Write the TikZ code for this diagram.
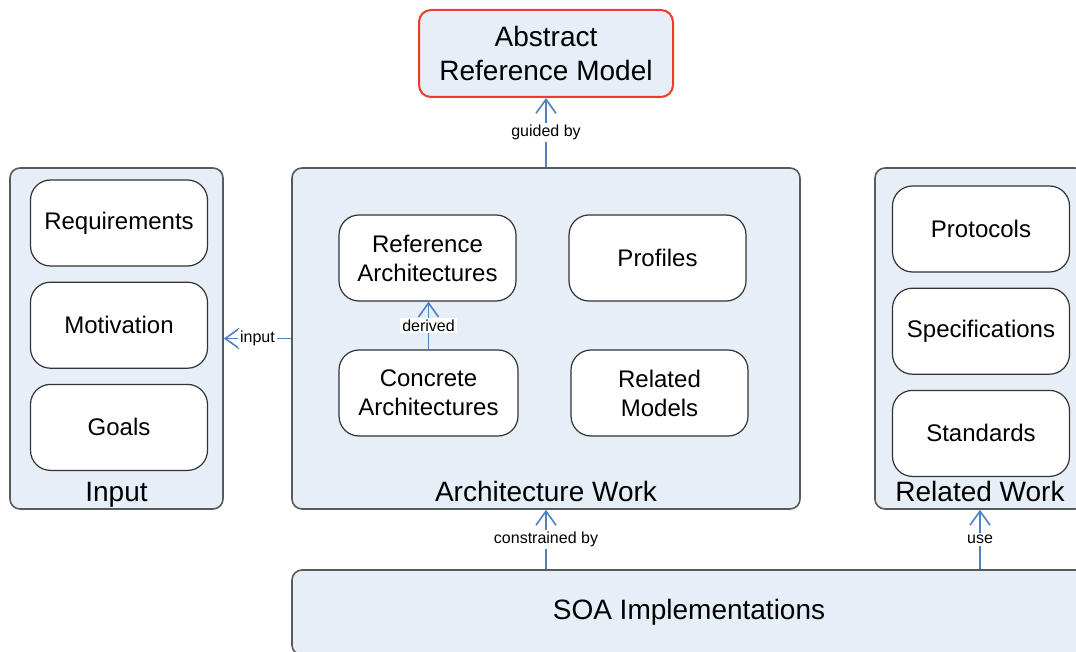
\documentclass[tikz,border=0pt]{standalone}
\usepackage{fontspec}
\setmainfont{Liberation Sans}
\usetikzlibrary{arrows.meta,positioning}
\definecolor{paleblue}{HTML}{E6EEF7}
\definecolor{linkblue}{HTML}{4F81C4}
\definecolor{edgegrey}{HTML}{5A5A5A}
\definecolor{redline}{HTML}{EE3B2E}
\tikzset{
	group/.style={draw=edgegrey, line width=0.8pt, fill=paleblue, rounded corners=5pt, inner sep=0pt},
	grouplbl/.style={anchor=base, inner sep=0pt, font=\fontsize{14}{16}\selectfont},
	item/.style={draw=black!80, line width=0.6pt, fill=white, rounded corners=10pt, minimum width=88.5pt, minimum height=43pt, inner sep=0pt, align=center, font=\fontsize{12}{14.5}\selectfont},
	link/.style={draw=linkblue, line width=0.8pt, -{Straight Barb[length=7pt,width=10pt]}},
	tag/.style={fill=white, inner sep=1pt, font=\fontsize{8}{9}\selectfont},
}
\begin{document}
\begin{tikzpicture}[x=0.5pt, y=-0.5pt]
			%%%%% START %%%%%
			\useasboundingbox (0,0) rectangle (1076,652);
			\clip (0,0) rectangle (1076,652);
			
			% top model
			\node[group, draw=redline, line width=1pt, rounded corners=6pt, minimum width=127pt, minimum height=43.5pt, align=center, font=\fontsize{14}{17}\selectfont] (abs) at (546,53.5) {Abstract\\Reference Model};
			
			% input
			\node[group, minimum width=106.5pt, minimum height=170.5pt] (inp) at (116.5,338.5) {};
			\node[grouplbl, yshift=4pt] (inplbl) at (inp.south) {Input};
			\node[item] (req) at (119,223) {Requirements};
			\node[item, below=7.5pt of req] (mot) {Motivation};
			\node[item, below=7.5pt of mot] (goal) {Goals};
			
			% architecture work
			\node[group, minimum width=254pt, minimum height=170.5pt] (arch) at (546,338.5) {};
			\node[grouplbl, yshift=4pt] (archlbl) at (arch.south) {Architecture Work};
			\node[item] (ref) at (427.5,258) {Reference\\Architectures};
			\node[item] (prof) at (657.5,258) {Profiles};
			\node[item, minimum width=89.5pt] (conc) at (428.5,393) {Concrete\\Architectures};
			\node[item] (relmod) at (659.5,393) {Related\\Models};
			
			% related work
			\node[group, minimum width=105pt, minimum height=170.5pt] (rel) at (980,338.5) {};
			\node[grouplbl, yshift=4pt] (rellbl) at (rel.south) {Related Work};
			\node[item] (prot) at (981,229) {Protocols};
			\node[item, below=7.5pt of prot] (spec) {Specifications};
			\node[item, below=7.5pt of spec] (std) {Standards};
			
			% implementations
			\node[group, minimum width=397pt, minimum height=42.5pt, font=\fontsize{14}{16}\selectfont] (soa) at (689,612.5) {SOA Implementations};
			
			% links
			\draw[link] (arch.north) -- node[tag] {guided by} (abs.south);
			\draw[link] (arch.west) -- node[tag] {input} (inp.east);
			\draw[link] (conc.north) -- node[tag] {derived} (conc.north |- ref.south);
			\draw[link] (arch.south |- soa.north) -- node[tag] {constrained by} (arch.south);
			\draw[link] (rel.south |- soa.north) -- node[tag] {use} (rel.south);
			
			%%%%% END %%%%%
\end{tikzpicture}
\end{document}
